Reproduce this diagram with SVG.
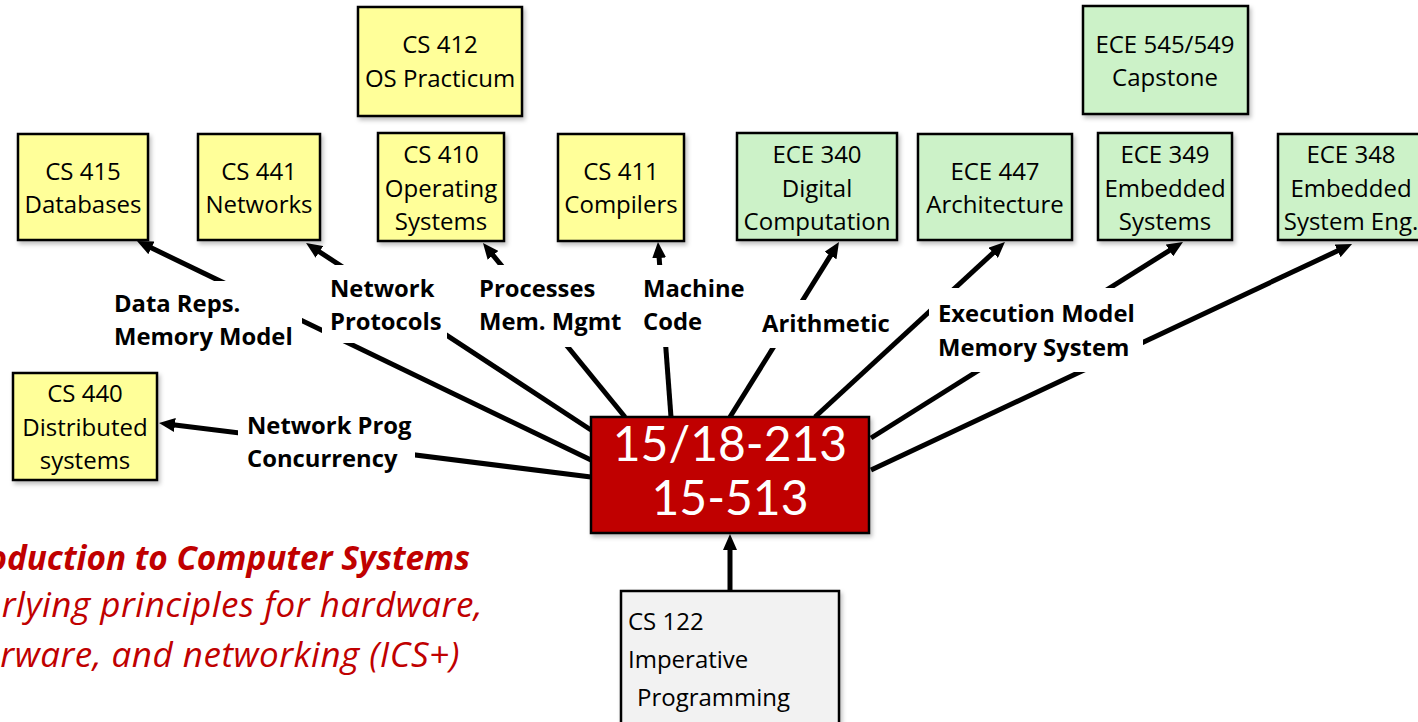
<svg xmlns="http://www.w3.org/2000/svg" width="1418" height="722" viewBox="0 0 1418 722">
<style>
.node rect{stroke:#000;stroke-width:2.5;filter:url(#sh)}
.y rect{fill:#FFFF99}
.g rect{fill:#CCF2C8}
.nt{font-family:"Open Sans","Liberation Sans",sans-serif;font-size:24px;fill:#000;text-anchor:middle}
.ls{text-anchor:start}
.lbl{font-family:"Open Sans","Liberation Sans",sans-serif;font-size:23.8px;font-weight:bold;fill:#000}
.conn line{stroke:#000;stroke-width:5;marker-end:url(#ah)}
.bg{fill:#fff}
.red{font-family:"Open Sans","Liberation Sans",sans-serif;font-size:35px;font-style:italic;fill:#C00000;text-anchor:end;letter-spacing:0.5px}
.redb{font-size:33.3px;font-weight:bold;letter-spacing:0}
.big{font-family:Lato,"Liberation Sans",sans-serif;font-size:48px;fill:#fff;text-anchor:middle}
</style>
<defs>
<marker id="ah" markerWidth="16" markerHeight="14" refX="6" refY="7" orient="auto" markerUnits="userSpaceOnUse"><path d="M0,0 L16,7 L0,14 z" fill="#000"/></marker>
<filter id="sh" x="-10%" y="-10%" width="130%" height="130%"><feDropShadow dx="2" dy="3" stdDeviation="2" flood-color="#000" flood-opacity="0.25"/></filter>
</defs>
<rect width="1418" height="722" fill="#fff"/>
<g id="connectors" class="conn">
<line x1="591" y1="460" x2="146" y2="245.3"/>
<line x1="591" y1="430" x2="314.4" y2="248.5"/>
<line x1="625" y1="417" x2="489.3" y2="250.7"/>
<line x1="671" y1="417" x2="658.7" y2="252"/>
<line x1="730" y1="417" x2="833.7" y2="250.5"/>
<line x1="815" y1="417" x2="997.6" y2="248.8"/>
<line x1="871" y1="438" x2="1174.5" y2="247.3"/>
<line x1="871" y1="470" x2="1343" y2="248.3"/>
<line x1="591" y1="477" x2="168.9" y2="424.2"/>
<line x1="730" y1="591" x2="730" y2="544"/>
</g>
<g id="labels">
<g id="lbl-datareps"><rect class="bg" x="108" y="281" width="194" height="71"/><text class="lbl" x="114" y="312">Data Reps.</text><text class="lbl" x="114" y="345">Memory Model</text></g>
<g id="lbl-netproto"><rect class="bg" x="322" y="265" width="125" height="78"/><text class="lbl" x="330" y="297">Network</text><text class="lbl" x="330" y="330">Protocols</text></g>
<g id="lbl-processes"><rect class="bg" x="472" y="265" width="158" height="82"/><text class="lbl" x="479" y="297">Processes</text><text class="lbl" x="479" y="330">Mem. Mgmt</text></g>
<g id="lbl-machine"><rect class="bg" x="638" y="265" width="107" height="82"/><text class="lbl" x="643" y="297">Machine</text><text class="lbl" x="643" y="330">Code</text></g>
<g id="lbl-arith"><rect class="bg" x="755" y="300" width="131" height="48"/><text class="lbl" x="762" y="332">Arithmetic</text></g>
<g id="lbl-exec"><rect class="bg" x="929" y="288" width="214" height="84"/><text class="lbl" x="938" y="322">Execution Model</text><text class="lbl" x="938" y="356">Memory System</text></g>
<g id="lbl-netprog"><rect class="bg" x="238" y="410" width="177" height="70"/><text class="lbl" x="247" y="434">Network Prog</text><text class="lbl" x="247" y="467">Concurrency</text></g>
</g>
<g id="cs415" class="node y"><rect x="18" y="134" width="130" height="106"/><text class="nt" x="83" y="180">CS 415</text><text class="nt" x="83" y="213">Databases</text></g>
<g id="cs441" class="node y"><rect x="198" y="134" width="122" height="106"/><text class="nt" x="259" y="180">CS 441</text><text class="nt" x="259" y="213">Networks</text></g>
<g id="cs412" class="node y"><rect x="358" y="7" width="164" height="109"/><text class="nt" x="440" y="53">CS 412</text><text class="nt" x="440" y="87">OS Practicum</text></g>
<g id="cs410" class="node y"><rect x="378" y="133" width="126" height="108"/><text class="nt" x="441" y="163">CS 410</text><text class="nt" x="441" y="197">Operating</text><text class="nt" x="441" y="230">Systems</text></g>
<g id="cs411" class="node y"><rect x="558" y="134" width="126" height="107"/><text class="nt" x="621" y="180">CS 411</text><text class="nt" x="621" y="213">Compilers</text></g>
<g id="ece340" class="node g"><rect x="737" y="133" width="160" height="107"/><text class="nt" x="817" y="163">ECE 340</text><text class="nt" x="817" y="197">Digital</text><text class="nt" x="817" y="230">Computation</text></g>
<g id="ece447" class="node g"><rect x="918" y="134" width="154" height="106"/><text class="nt" x="995" y="180">ECE 447</text><text class="nt" x="995" y="213">Architecture</text></g>
<g id="ece349" class="node g"><rect x="1098" y="133" width="134" height="107"/><text class="nt" x="1165" y="163">ECE 349</text><text class="nt" x="1165" y="197">Embedded</text><text class="nt" x="1165" y="230">Systems</text></g>
<g id="ece348" class="node g"><rect x="1278" y="134" width="146" height="106"/><text class="nt" x="1351" y="163">ECE 348</text><text class="nt" x="1351" y="197">Embedded</text><text class="nt" x="1351" y="230">System Eng.</text></g>
<g id="ece545" class="node g"><rect x="1083" y="6" width="165" height="108"/><text class="nt" x="1165" y="53">ECE 545/549</text><text class="nt" x="1165" y="86">Capstone</text></g>
<g id="cs440" class="node y"><rect x="13" y="373" width="144" height="107"/><text class="nt" x="85" y="402">CS 440</text><text class="nt" x="85" y="436">Distributed</text><text class="nt" x="85" y="469">systems</text></g>
<g id="ics" class="node"><rect x="591" y="417" width="278" height="116" fill="#C00000"/><text class="big" x="730" y="461">15/18-213</text><text class="big" x="730" y="515">15-513</text></g>
<g id="cs122" class="node"><rect x="621" y="591" width="218" height="140" fill="#F2F2F2"/><text class="nt ls" x="628" y="630">CS 122</text><text class="nt ls" x="628" y="668">Imperative</text><text class="nt ls" x="637" y="706">Programming</text></g>
<g id="caption">
<text class="red redb" x="470" y="570">oduction to Computer Systems</text>
<text class="red" x="483" y="617">rlying principles for hardware,</text>
<text class="red" x="460" y="667">rware, and networking (ICS+)</text>
</g>
</svg>
